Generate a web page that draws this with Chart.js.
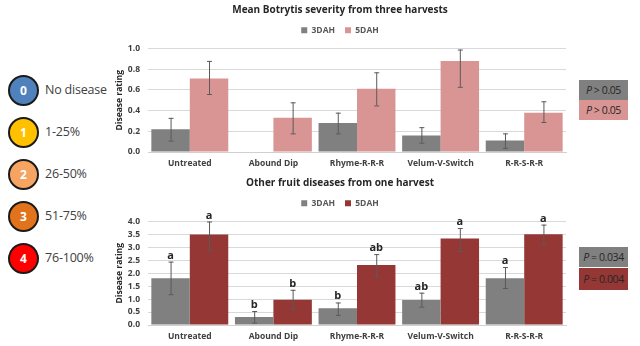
<!DOCTYPE html>
<html><head><meta charset="utf-8">
<script src="https://cdn.jsdelivr.net/npm/chart.js@4.4.1/dist/chart.umd.min.js"></script>
<style>
html,body{margin:0;padding:0;background:#fff;width:640px;height:346px;overflow:hidden;font-family:"Open Sans",sans-serif;}
.cw{position:absolute;left:95px;width:480px;height:172px;}
#c1w{top:0}
#c2w{top:173px}
.dot{position:absolute;left:8px;width:27px;height:27px;border:2px solid #1a1a1a;border-radius:50%;color:#fff;font:bold 12px "Open Sans",sans-serif;text-align:center;line-height:27px;}
.lab{position:absolute;left:45px;font:12.5px "Open Sans",sans-serif;color:#404040;letter-spacing:-0.2px;}
.pbox{position:absolute;left:579px;width:49px;height:20px;font:10.5px "Open Sans",sans-serif;color:#262626;text-align:center;line-height:20px;white-space:nowrap;letter-spacing:-0.4px;}
</style></head><body>
<div id="keys"></div>
<div class="cw" id="c1w"><canvas id="c1"></canvas></div>
<div class="cw" id="c2w"><canvas id="c2"></canvas></div>
<div class="pbox" style="top:80px;background:#808080;"><i>P</i> &gt; 0.05</div>
<div class="pbox" style="top:100px;background:#d99594;"><i>P</i> &gt; 0.05</div>
<div class="pbox" style="top:247px;background:#808080;"><i>P</i> = 0.034</div>
<div class="pbox" style="top:268px;background:#953735;height:22px;line-height:22px;"><i>P</i> = 0.004</div>
<script>
const categories = ['Untreated','Abound Dip','Rhyme-R-R-R','Velum-V-Switch','R-R-S-R-R'];
const seriesNames = ['3DAH','5DAH'];

// Mean Botrytis severity from three harvests
const botrytis3 = [0.22, 0, 0.28, 0.16, 0.11];
const botrytis3Low = [0.11, null, 0.18, 0.09, 0.04];
const botrytis3High = [0.33, null, 0.38, 0.24, 0.18];
const botrytis5 = [0.71, 0.33, 0.61, 0.88, 0.38];
const botrytis5Low = [0.56, 0.18, 0.45, 0.63, 0.29];
const botrytis5High = [0.88, 0.48, 0.77, 0.99, 0.49];
const botrytisTicks = [0, 0.2, 0.4, 0.6, 0.8, 1.0];

// Other fruit diseases from one harvest
const other3 = [1.81, 0.31, 0.65, 0.97, 1.81];
const other3Low = [1.19, 0.09, 0.39, 0.71, 1.43];
const other3High = [2.45, 0.54, 0.87, 1.25, 2.24];
const other5 = [3.5, 0.98, 2.32, 3.34, 3.51];
const other5Low = [2.87, 0.61, 1.88, 2.86, 3.13];
const other5High = [4.0, 1.36, 2.74, 3.75, 3.88];
const other3Letters = ['a','b','b','ab','a'];
const other5Letters = ['a','b','ab','a','a'];
const otherTicks = [0, 0.5, 1.0, 1.5, 2.0, 2.5, 3.0, 3.5, 4.0];

// Severity key
const keyNums = ['0','1','2','3','4'];
const keyLabels = ['No disease','1-25%','26-50%','51-75%','76-100%'];
const keyColors = ['#4f81bd','#ffc000','#f5a462','#e0731b','#ff0000'];

const keys = document.getElementById('keys');
keyNums.forEach((n,i)=>{
  const top = 75 + i*42;
  const d = document.createElement('div');
  d.className='dot'; d.style.top=top+'px'; d.style.background=keyColors[i]; d.textContent=n;
  keys.appendChild(d);
  const l = document.createElement('div');
  l.className='lab'; l.style.top=(top+6)+'px'; l.textContent=keyLabels[i];
  keys.appendChild(l);
});

const FONT = '"Open Sans", sans-serif';

const errorPlugin = {
  id:'errbars',
  afterDatasetsDraw(chart){
    const ctx = chart.ctx, ys = chart.scales.y;
    chart.data.datasets.forEach((ds,di)=>{
      const meta = chart.getDatasetMeta(di);
      meta.data.forEach((el,i)=>{
        const lo = ds.errLow[i], hi = ds.errHigh[i];
        const x = el.x;
        let topY = el.y;
        if(lo!=null && hi!=null){
          const yl = ys.getPixelForValue(lo), yh = ys.getPixelForValue(hi);
          topY = yh;
          ctx.save();
          ctx.strokeStyle='#5a5a5a'; ctx.lineWidth=1;
          ctx.beginPath();
          ctx.moveTo(x+0.5,yl); ctx.lineTo(x+0.5,yh);
          ctx.moveTo(x-2,yl+0.5); ctx.lineTo(x+3,yl+0.5);
          ctx.moveTo(x-2,yh+0.5); ctx.lineTo(x+3,yh+0.5);
          ctx.stroke();
          ctx.restore();
        }
        if(ds.letters){
          ctx.save();
          ctx.fillStyle='#262626';
          ctx.font='bold 11px '+FONT;
          ctx.textAlign='center'; ctx.textBaseline='alphabetic';
          ctx.fillText(ds.letters[i], x, topY-3);
          ctx.restore();
        }
      });
    });
  }
};

function makeChart(id, title, d3, l3, h3, d5, l5, h5, c5, ticks, lt3, lt5){
  const ch = new Chart(document.getElementById(id), {
    type:'bar',
    data:{
      labels:categories,
      datasets:[
        {label:seriesNames[0], data:d3, errLow:l3, errHigh:h3, letters:lt3, backgroundColor:'#808080', borderWidth:0, categoryPercentage:0.92, barPercentage:1.0},
        {label:seriesNames[1], data:d5, errLow:l5, errHigh:h5, letters:lt5, backgroundColor:c5, borderWidth:0, categoryPercentage:0.92, barPercentage:1.0}
      ]
    },
    options:{
      responsive:true, maintainAspectRatio:false, animation:false,
      layout:{padding:{left:19, right:9, top:0, bottom:0}},
      plugins:{
        title:{display:true, text:title, color:'#262626', font:{family:FONT, size:10, weight:'bold'}, padding:{top:4, bottom:0}},
        legend:{display:true, labels:{boxWidth:6, boxHeight:6, color:'#595959', font:{family:FONT, size:8.5, weight:'bold'}, padding:10}},
        tooltip:{enabled:false}
      },
      scales:{
        x:{
          afterFit(s){ s.height = 20; },
          grid:{display:false, drawTicks:false},
          border:{display:true, color:'#d0d0d0'},
          ticks:{color:'#404040', font:{family:FONT, size:8.5, weight:'bold'}, padding:6, maxRotation:0}
        },
        y:{
          min:ticks[0], max:ticks[ticks.length-1],
          afterFit(s){ s.width = 34; },
          afterBuildTicks(s){ s.ticks = ticks.map(v=>({value:v})); },
          grid:{color:'#d9d9d9', drawTicks:false},
          border:{display:false},
          ticks:{autoSkip:false, color:'#404040', font:{family:FONT, size:8.5, weight:'bold'}, padding:8, callback:v=>Number(v).toFixed(1)},
          title:{display:true, text:'Disease rating', color:'#262626', font:{family:FONT, size:8.5, weight:'bold'}, padding:{top:0,bottom:0}}
        }
      }
    },
    plugins:[errorPlugin]
  });
  const lg = ch.legend;
  const origFit = lg.fit.bind(lg);
  lg.fit = function(){ origFit(); this.height += 4; };
  ch.update();
  return ch;
}

makeChart('c1','Mean Botrytis severity from three harvests', botrytis3, botrytis3Low, botrytis3High, botrytis5, botrytis5Low, botrytis5High, '#d99594', botrytisTicks, null, null);
makeChart('c2','Other fruit diseases from one harvest', other3, other3Low, other3High, other5, other5Low, other5High, '#953735', otherTicks, other3Letters, other5Letters);
</script>
</body></html>
